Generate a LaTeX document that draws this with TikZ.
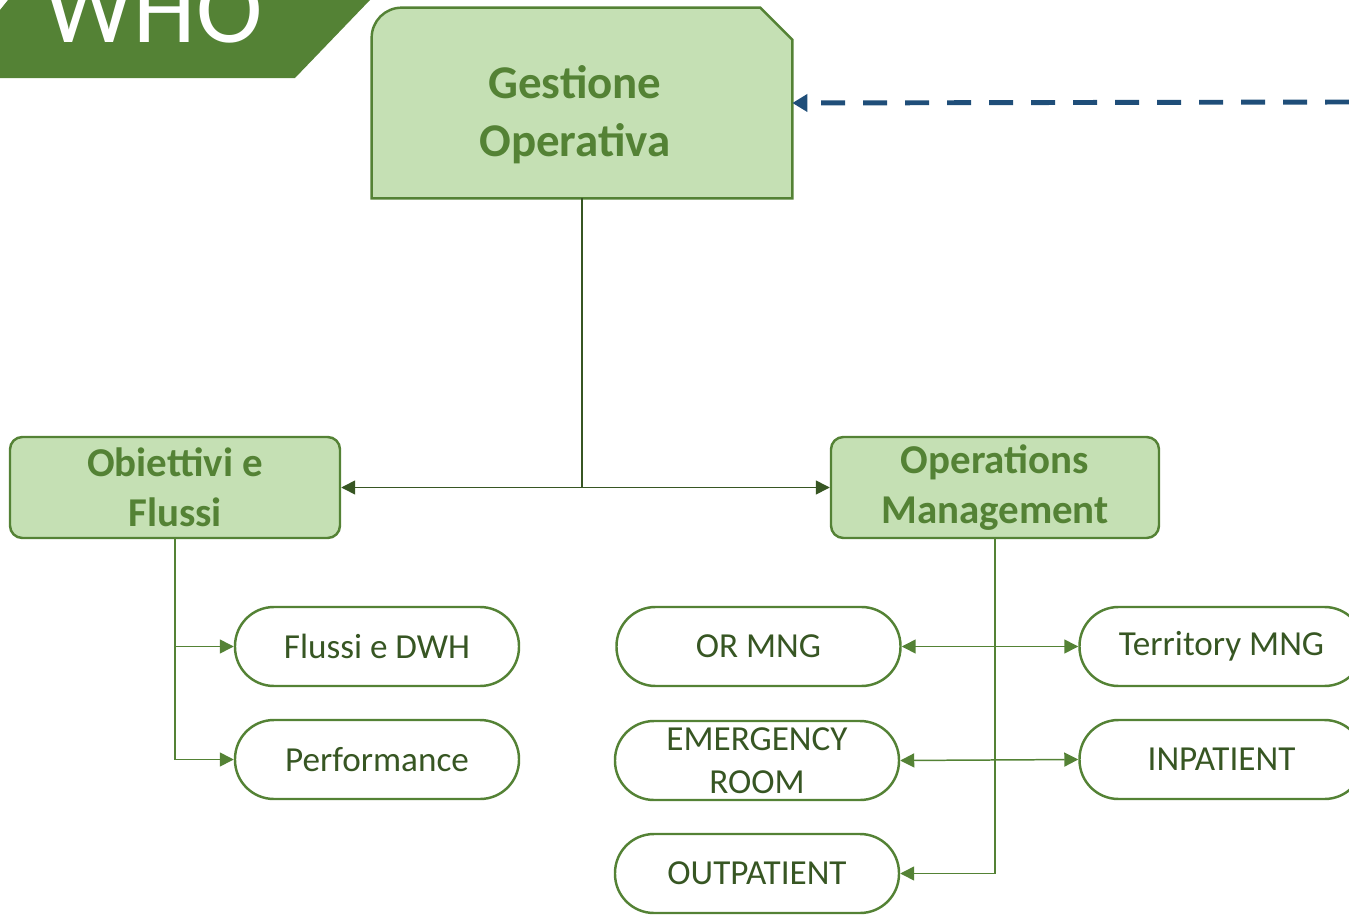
\documentclass[tikz,border=0pt]{standalone}
\usepackage{fontspec}
\setmainfont{Carlito}
\usepackage{xcolor}
\usetikzlibrary{positioning, calc, arrows.meta}
\definecolor{dgreen}{HTML}{548235}
\definecolor{ddgreen}{HTML}{375623}
\definecolor{lgreen}{HTML}{C5E0B4}
\definecolor{dblue}{HTML}{1F4E79}

\begin{document}
\begin{tikzpicture}[
    box/.style={draw=dgreen, line width=1.4pt, fill=lgreen, rounded corners=7pt,
                minimum width=6.6cm, minimum height=2.02cm, align=center,
                text=dgreen, font=\fontsize{23.3}{28.5}\selectfont\bfseries},
    pill/.style={draw=dgreen, line width=1.4pt, rounded corners=0.78cm,
                 minimum width=5.68cm, minimum height=1.58cm, align=center,
                 text=ddgreen, font=\fontsize{20}{24.5}\selectfont},
    lnk/.style={ddgreen, line width=0.85pt},
    arwb/.style={{Triangle[length=0.28cm, width=0.28cm]}-{Triangle[length=0.28cm, width=0.28cm]}, ddgreen, line width=0.85pt},
    sarw/.style={-{Triangle[length=0.28cm, width=0.28cm]}, dgreen, line width=0.85pt},
    sarwb/.style={{Triangle[length=0.28cm, width=0.28cm]}-{Triangle[length=0.28cm, width=0.28cm]}, dgreen, line width=0.85pt},
]
\useasboundingbox (0,0) rectangle (26.98,-18.3);
\clip (0,0) rectangle (26.98,-18.3);

% banner
\fill[dgreen] (0,-0.2) -- (0.16,0) -- (7.4,0) -- (5.9,-1.56) -- (0,-1.56) -- cycle;
\node[anchor=base, text=white, font=\fontsize{57}{60}\selectfont] (who) at (3.07,-0.86) {WHO};

% top box
\node[minimum width=8.4cm, minimum height=3.8cm] (gest) at (11.64,-2.06) {};
\draw[dgreen, line width=1.4pt, fill=lgreen]
    (gest.south west) -- ([yshift=-0.6cm]gest.north west)
    arc[start angle=180, end angle=90, radius=0.6cm]
    -- ([xshift=-0.64cm]gest.north east) -- ([yshift=-0.64cm]gest.north east)
    -- (gest.south east) -- cycle;
\node[align=center, text=dgreen, font=\fontsize{26.7}{33}\selectfont\bfseries] (gesttxt)
    at ([xshift=-0.14cm, yshift=-0.24cm]gest.center) {Gestione\\Operativa};

\coordinate (src) at (26.98,-2.04);
\draw[dblue, line width=2.8pt, dash pattern=on 0.48cm off 0.36cm,
      -{Triangle[length=0.3cm, width=0.34cm]}] (src) -- (gest.east);

% second level
\node[box] (obj) at (3.5,-9.75) {Obiettivi e\\Flussi};
\node[box, minimum width=6.56cm] (ops) at (19.9,-9.75) {Operations\\Management};

\coordinate (mid) at (gest.south |- obj.east);
\draw[lnk] (gest.south) -- (mid);
\draw[arwb] (obj.east) -- (ops.west);

% leaves
\node[pill] (fdwh) at (7.54,-12.93) {Flussi e DWH};
\node[pill] (perf) at (7.54,-15.19) {Performance};
\node[pill] (ormng) at (15.17,-12.93) {OR MNG};
\node[pill] (emer) at (15.14,-15.21) {EMERGENCY\\ROOM};
\node[pill] (outp) at (15.14,-17.47) {OUTPATIENT};
\node[pill] (terr) at (24.43,-12.93) {Territory MNG};
\node[pill] (inp) at (24.43,-15.19) {INPATIENT};

\draw[sarw] (obj.south) |- (fdwh.west);
\draw[sarw] (obj.south) |- (perf.west);
\draw[sarw] (ops.south) |- (outp.east);
\draw[sarwb] (ormng.east) -- (terr.west);
\draw[sarwb] (emer.east) -- (inp.west);
\end{tikzpicture}
\end{document}
